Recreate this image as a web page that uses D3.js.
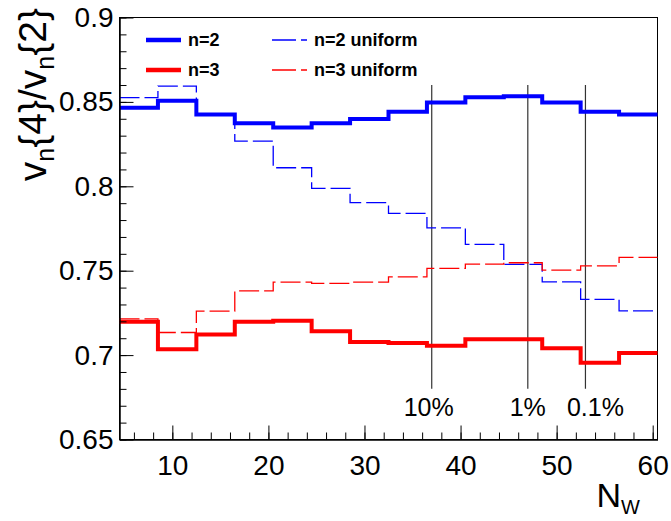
<!DOCTYPE html>
<html>
<head>
<meta charset="utf-8">
<script src="https://cdn.jsdelivr.net/npm/d3@7/dist/d3.min.js"></script>
<style>
  html, body { margin: 0; padding: 0; background: #fff; }
  svg { display: block; font-family: "Liberation Sans", Arial, Helvetica, sans-serif; }
</style>
</head>
<body>
<svg id="chart" width="671" height="521"></svg>
<script>
// Bin edges in N_W (14 bins of width 4)
const binEdges = [4.5, 8.5, 12.5, 16.5, 20.5, 24.5, 28.5, 32.5, 36.5, 40.5, 44.5, 48.5, 52.5, 56.5, 60.5];

// v_n{4}/v_n{2} per bin
const n2 = [0.8465, 0.8507, 0.8426, 0.8373, 0.8349, 0.8373, 0.8398, 0.8442, 0.8497, 0.8527, 0.8533, 0.8497, 0.8442, 0.8426];
const n2Uniform = [0.8525, 0.8594, 0.8430, 0.8268, 0.8110, 0.7988, 0.7903, 0.7840, 0.7754, 0.7656, 0.7537, 0.7434, 0.7330, 0.7262];
const n3 = [0.7197, 0.7035, 0.7122, 0.7197, 0.7203, 0.7142, 0.7078, 0.7071, 0.7055, 0.7094, 0.7094, 0.7041, 0.6954, 0.7013];
const n3Uniform = [0.7215, 0.7134, 0.7260, 0.7381, 0.7432, 0.7425, 0.7432, 0.7464, 0.7514, 0.7539, 0.7547, 0.7503, 0.7529, 0.7579];

// Centrality markers
const markerX = [37, 47, 53];
const markerLabels = ["10%", "1%", "0.1%"];
const markerRange = [0.68, 0.86];

const xTicks = [10, 20, 30, 40, 50, 60];
const yTicks = [0.65, 0.7, 0.75, 0.8, 0.85, 0.9];
const yTickLabels = ["0.65", "0.7", "0.75", "0.8", "0.85", "0.9"];

const svg = d3.select("#chart");
const m = { left: 119.5, right: 657.5, top: 17.5, bottom: 439.5 };

const x = d3.scaleLinear().domain([4.5, 60.5]).range([m.left, m.right]);
const y = d3.scaleLinear().domain([0.65, 0.9]).range([m.bottom, m.top]);

// frame
svg.append("rect")
  .attr("x", m.left).attr("y", m.top)
  .attr("width", m.right - m.left).attr("height", m.bottom - m.top)
  .attr("fill", "none").attr("stroke", "#000").attr("stroke-width", 1);

// step histogram path from bin edges and values
function stepPoints(vals) {
  const pts = [];
  vals.forEach((v, i) => {
    pts.push([binEdges[i], v]);
    pts.push([binEdges[i + 1], v]);
  });
  return pts;
}
const line = d3.line().x(d => x(d[0])).y(d => y(d[1]));

const plot = svg.append("g");

// centrality marker lines
markerX.forEach(v => {
  plot.append("line")
    .attr("x1", x(v)).attr("x2", x(v))
    .attr("y1", y(markerRange[0])).attr("y2", y(markerRange[1]))
    .attr("stroke", "#333").attr("stroke-width", 1.2);
});

const dash = "20,5";
const series = [
  { vals: n2Uniform, color: "#0000ff", width: 1.3, dash: dash },
  { vals: n3Uniform, color: "#ff0000", width: 1.3, dash: dash },
  { vals: n2, color: "#0000ff", width: 4, dash: null },
  { vals: n3, color: "#ff0000", width: 4, dash: null }
];
series.forEach(s => {
  plot.append("path")
    .attr("d", line(stepPoints(s.vals)))
    .attr("fill", "none")
    .attr("stroke", s.color)
    .attr("stroke-width", s.width)
    .attr("stroke-dasharray", s.dash)
    .attr("stroke-linejoin", "miter");
});

// marker labels
const labelShift = [-3, 0, 10];
markerLabels.forEach((t, i) => {
  svg.append("text")
    .attr("x", x(markerX[i]) + labelShift[i]).attr("y", 416)
    .attr("text-anchor", "middle")
    .attr("font-size", 25)
    .attr("fill", "#000")
    .text(t);
});

// x axis: minor ticks every 2, major ticks with labels every 10
const xMinor = svg.append("g").attr("transform", `translate(0,${m.bottom})`)
  .call(d3.axisBottom(x).tickValues(d3.range(6, 61, 2)).tickSizeInner(-7).tickSizeOuter(0).tickFormat(""));
const xMajor = svg.append("g").attr("transform", `translate(0,${m.bottom})`)
  .call(d3.axisBottom(x).tickValues(xTicks).tickSizeInner(-14).tickSizeOuter(0).tickPadding(16));
xMajor.selectAll("text").attr("font-size", 28).attr("fill", "#000").attr("font-family", null);

// y axis: minor ticks every 0.01, major ticks with labels every 0.05
const yMinor = svg.append("g").attr("transform", `translate(${m.left},0)`)
  .call(d3.axisLeft(y).tickValues(d3.range(0, 26).map(i => 0.65 + i * 0.01)).tickSizeInner(-7).tickSizeOuter(0).tickFormat(""));
const yMajor = svg.append("g").attr("transform", `translate(${m.left},0)`)
  .call(d3.axisLeft(y).tickValues(yTicks).tickSizeInner(-14).tickSizeOuter(0).tickPadding(6)
    .tickFormat((d, i) => yTickLabels[i]));
yMajor.selectAll("text").attr("font-size", 28).attr("fill", "#000").attr("font-family", null);
[xMinor, xMajor, yMinor, yMajor].forEach(g => {
  g.select(".domain").attr("stroke", "#000");
  g.selectAll(".tick line").attr("stroke", "#000");
});

// axis titles
const yTitle = svg.append("text")
  .attr("transform", "translate(46,8) rotate(-90)")
  .attr("text-anchor", "end")
  .attr("font-size", 39);
yTitle.append("tspan").text("v");
yTitle.append("tspan").attr("font-size", 25).attr("dy", 8).text("n");
yTitle.append("tspan").attr("dy", -8).text("{4}/v");
yTitle.append("tspan").attr("font-size", 25).attr("dy", 8).text("n");
yTitle.append("tspan").attr("dy", -8).text("{2}");

const xTitle = svg.append("text")
  .attr("x", 640).attr("y", 507)
  .attr("text-anchor", "end")
  .attr("font-size", 34);
xTitle.append("tspan").text("N");
xTitle.append("tspan").attr("font-size", 20).attr("dy", 7).text("W");

// legend
const legend = [
  { label: "n=2", color: "#0000ff", width: 4.5, dash: null, lx: 146, ly: 40 },
  { label: "n=2 uniform", color: "#0000ff", width: 1.3, dash: "24,5", lx: 272, ly: 40 },
  { label: "n=3", color: "#ff0000", width: 4.5, dash: null, lx: 146, ly: 70 },
  { label: "n=3 uniform", color: "#ff0000", width: 1.3, dash: "24,5", lx: 272, ly: 70 }
];
const lg = svg.append("g");
legend.forEach(d => {
  lg.append("line")
    .attr("x1", d.lx).attr("x2", d.lx + 35)
    .attr("y1", d.ly).attr("y2", d.ly)
    .attr("stroke", d.color).attr("stroke-width", d.width)
    .attr("stroke-dasharray", d.dash);
  lg.append("text")
    .attr("x", d.lx + 42).attr("y", d.ly).attr("dy", "0.36em")
    .attr("font-size", 18).attr("font-weight", "bold")
    .text(d.label);
});
</script>
</body>
</html>
